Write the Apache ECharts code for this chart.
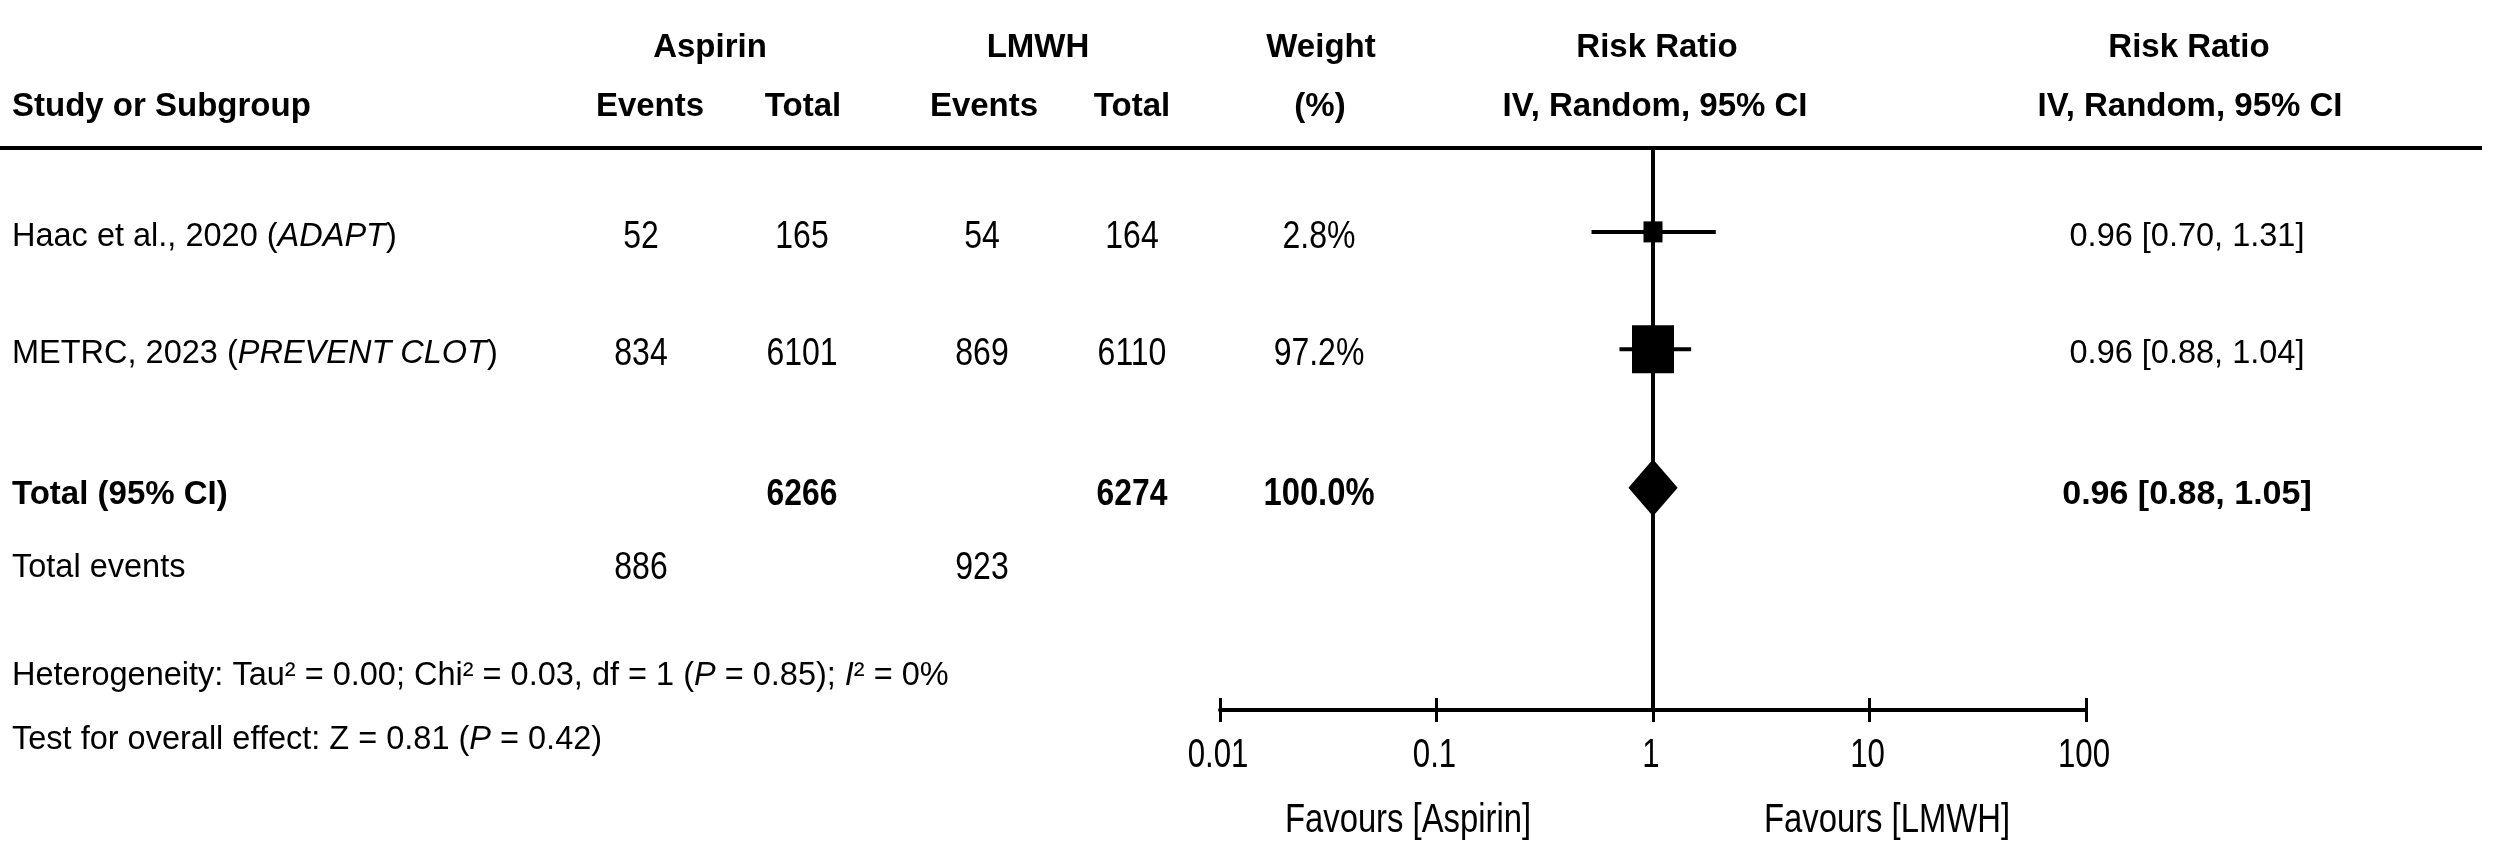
<!DOCTYPE html>
<html>
<head>
<meta charset="utf-8">
<title>Aspirin vs LMWH forest plot</title>
<script src="https://cdn.jsdelivr.net/npm/echarts@6/dist/echarts.min.js"></script>
<style>
  html, body { margin: 0; padding: 0; background: #fff; }
  #chart { width: 2500px; height: 859px; }
</style>
</head>
<body>
<div id="chart"></div>
<script>
// table values
const studies = ["Haac et al., 2020", "METRC, 2023"];
const trials = ["ADAPT", "PREVENT CLOT"];
const aspirinEvents = [52, 834];
const aspirinTotal = [165, 6101];
const lmwhEvents = [54, 869];
const lmwhTotal = [164, 6110];
const weights = ["2.8%", "97.2%"];
const rrLabels = ["0.96 [0.70, 1.31]", "0.96 [0.88, 1.04]"];

// where the marks sit in the drawing (read off the plot, not the labels)
const pointRR = [1.0, 1.0];
const ciLow = [0.52, 0.70];
const ciHigh = [1.95, 1.50];

// pooled row
const pooledTotals = [6266, 6274];
const pooledEvents = [886, 923];
const pooledWeight = "100.0%";
const pooledLabel = "0.96 [0.88, 1.05]";
const pooledRR = 1.0;
const pooledLow = 0.77;
const pooledHigh = 1.30;

const xTicks = [0.01, 0.1, 1, 10, 100];
const heterogeneity = "Heterogeneity: Tau² = 0.00; Chi² = 0.03, df = 1 ({it|P} = 0.85); {it|I}² = 0%";
const overallTest = "Test for overall effect: Z = 0.81 ({it|P} = 0.42)";

// layout / style (not data)
const rowPos = [1, 2.4, 4.05];          // y-axis slots: study 1, study 2, pooled
const boxSize = [[19, 21], [42, 48]];   // square marker size per study
const diamondHalfH = 28.5;
const FONT = '"Liberation Sans", Arial, Helvetica, sans-serif';
const BODY = 32.5;
const BOLD = 33;
const NARROW = { size: 39, sx: 0.82 };  // the number columns use a tall narrow face
const col = { study: 12, aspEv: 641, aspTot: 802, lmwEv: 982, lmwTot: 1132, weight: 1319, rr: 2187 };

const whiskers = studies.map((s, i) => [ciLow[i], ciHigh[i], rowPos[i]]);

const option = {
  animation: false,
  backgroundColor: "#fff",
  grid: { left: 1220, right: 414, top: 148, bottom: 149 },
  xAxis: [
    {
      type: "log", logBase: 10, min: 0.01, max: 100, splitNumber: 4,
      position: "bottom",
      axisLine: { onZero: false, lineStyle: { color: "#000", width: 4 } },
      axisTick: { show: true, inside: false, length: 12, lineStyle: { color: "#000", width: 3 } },
      axisLabel: { show: false },
      splitLine: { show: false },
    },
    {
      type: "log", logBase: 10, min: 0.01, max: 100, splitNumber: 4,
      position: "bottom",
      axisLine: { show: false, onZero: false },
      axisTick: { show: true, inside: true, length: 12, lineStyle: { color: "#000", width: 3 } },
      axisLabel: { show: false },
      splitLine: { show: false },
    },
  ],
  yAxis: {
    type: "value", inverse: true, min: 0, max: 6.7, show: false,
    axisLine: { onZero: false }, splitLine: { show: false },
  },
  series: [
    {
      type: "custom",
      name: "ci",
      xAxisIndex: 0,
      z: 1,
      silent: true,
      data: whiskers,
      encode: { x: [0, 1], y: 2 },
      renderItem(params, api) {
        const a = api.coord([api.value(0), api.value(2)]);
        const b = api.coord([api.value(1), api.value(2)]);
        return {
          type: "line",
          shape: { x1: a[0], y1: a[1], x2: b[0], y2: b[1] },
          style: { stroke: "#000", lineWidth: 4 },
        };
      },
      markLine: {
        silent: true,
        symbol: ["none", "none"],
        label: { show: false },
        lineStyle: { color: "#000", width: 4, type: "solid" },
        data: [{ xAxis: 1 }],
      },
    },
    {
      type: "scatter",
      name: "studies",
      xAxisIndex: 0,
      z: 3,
      silent: true,
      symbol: "rect",
      data: pointRR.map((v, i) => ({ value: [v, rowPos[i]], symbolSize: boxSize[i] })),
      itemStyle: { color: "#000", opacity: 1 },
    },
    {
      type: "custom",
      name: "pooled",
      xAxisIndex: 0,
      z: 3,
      silent: true,
      data: [[pooledLow, pooledRR, pooledHigh, rowPos[2]]],
      encode: { x: [0, 1, 2], y: 3 },
      renderItem(params, api) {
        const lo = api.coord([api.value(0), api.value(3)]);
        const mid = api.coord([api.value(1), api.value(3)]);
        const hi = api.coord([api.value(2), api.value(3)]);
        return {
          type: "polygon",
          shape: { points: [[lo[0], mid[1]], [mid[0], mid[1] - diamondHalfH], [hi[0], mid[1]], [mid[0], mid[1] + diamondHalfH]] },
          style: { fill: "#000" },
        };
      },
    },
  ],
};

const chart = echarts.init(document.getElementById("chart"));
chart.setOption(option);

const rich = {
  it: { fontStyle: "italic", fontSize: BODY, fontFamily: FONT, fill: "#000" },
};

function txt(x, y, text, opts = {}) {
  const size = opts.size || BODY;
  const weight = opts.bold ? "bold" : "normal";
  const align = opts.align || "center";
  return {
    type: "text", x, y, silent: true,
    scaleX: opts.sx || 1,
    style: {
      text,
      fill: "#000",
      font: `${weight} ${size}px ${FONT}`,
      fontSize: size, fontFamily: FONT, fontWeight: weight,
      align, textAlign: align,
      verticalAlign: "middle", textVerticalAlign: "middle",
      rich,
    },
  };
}

const rowY = r => chart.convertToPixel({ yAxisIndex: 0 }, r) + 5;
const els = [];

// header
const hb = { bold: true, size: BOLD };
els.push(txt(710, 48, "Aspirin", hb));
els.push(txt(1038, 48, "LMWH", hb));
els.push(txt(1321, 48, "Weight", hb));
els.push(txt(1657, 48, "Risk Ratio", hb));
els.push(txt(2189, 48, "Risk Ratio", hb));
els.push(txt(12, 107, "Study or Subgroup", { ...hb, align: "left" }));
els.push(txt(650, 107, "Events", hb));
els.push(txt(803, 107, "Total", hb));
els.push(txt(984, 107, "Events", hb));
els.push(txt(1132, 107, "Total", hb));
els.push(txt(1320, 107, "(%)", hb));
els.push(txt(1655, 107, "IV, Random, 95% CI", hb));
els.push(txt(2190, 107, "IV, Random, 95% CI", hb));
els.push({
  type: "line", silent: true,
  shape: { x1: 0, y1: 148, x2: 2482, y2: 148 },
  style: { stroke: "#000", lineWidth: 4 },
});

// study rows
studies.forEach((s, i) => {
  const y = rowY(rowPos[i]);
  els.push(txt(col.study, y, `${s} ({it|${trials[i]}})`, { align: "left" }));
  els.push(txt(col.aspEv, y, String(aspirinEvents[i]), NARROW));
  els.push(txt(col.aspTot, y, String(aspirinTotal[i]), NARROW));
  els.push(txt(col.lmwEv, y, String(lmwhEvents[i]), NARROW));
  els.push(txt(col.lmwTot, y, String(lmwhTotal[i]), NARROW));
  els.push(txt(col.weight, y, weights[i], NARROW));
  els.push(txt(col.rr, y, rrLabels[i]));
});

// pooled rows
const yp = rowY(rowPos[2]) + 2;
els.push(txt(col.study, yp, "Total (95% CI)", { ...hb, align: "left" }));
els.push(txt(col.aspTot, yp, String(pooledTotals[0]), { bold: true, size: 37, sx: 0.86 }));
els.push(txt(col.lmwTot, yp, String(pooledTotals[1]), { bold: true, size: 37, sx: 0.86 }));
els.push(txt(col.weight, yp, pooledWeight, { bold: true, size: 39, sx: 0.84 }));
els.push(txt(col.rr, yp, pooledLabel, { bold: true, size: 34 }));

els.push(txt(col.study, 568, "Total events", { align: "left" }));
els.push(txt(col.aspEv, 568, String(pooledEvents[0]), NARROW));
els.push(txt(col.lmwEv, 568, String(pooledEvents[1]), NARROW));

els.push(txt(col.study, 676, heterogeneity, { align: "left" }));
els.push(txt(col.study, 740, overallTest, { align: "left" }));

// tick labels, placed through the log axis
xTicks.forEach(t => {
  const x = chart.convertToPixel({ xAxisIndex: 0 }, t);
  els.push(txt(x - 2, 756, String(t), { size: 40, sx: 0.78 }));
});

// favours labels
els.push(txt(1408, 821, "Favours [Aspirin]", { size: 40, sx: 0.82 }));
els.push(txt(1887, 821, "Favours [LMWH]", { size: 40, sx: 0.82 }));

chart.setOption({ graphic: { elements: els } });
</script>
</body>
</html>
